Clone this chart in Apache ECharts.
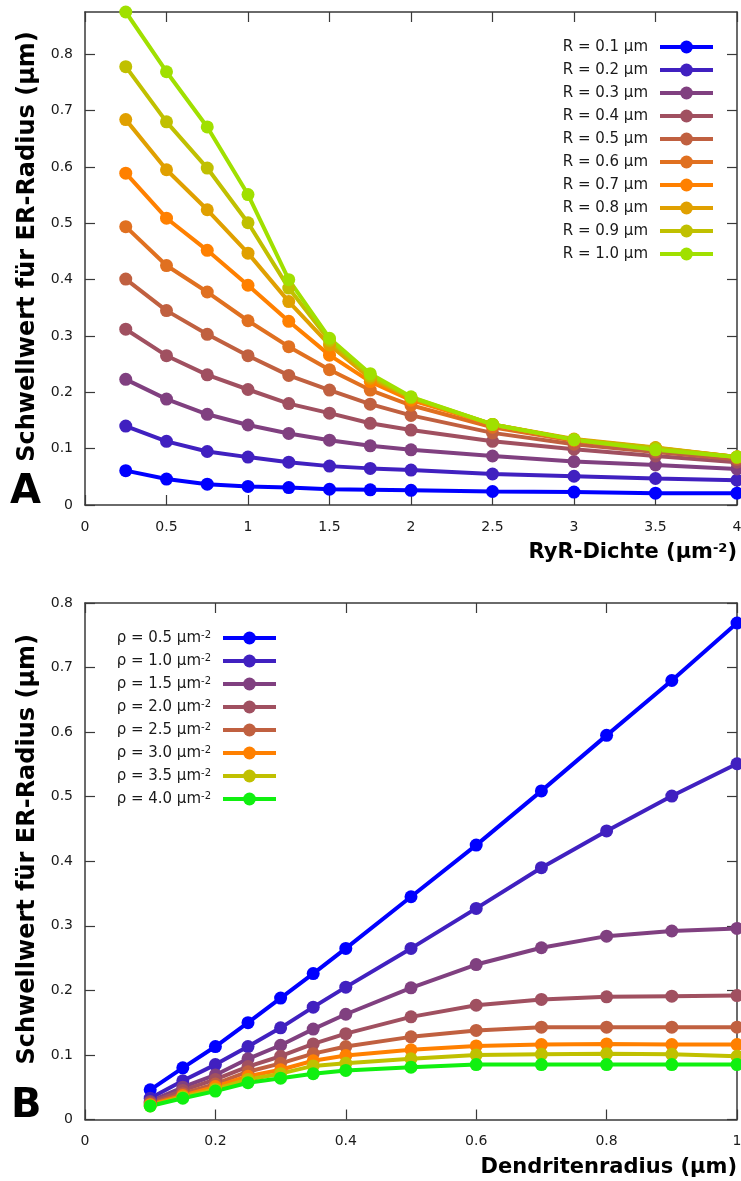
<!DOCTYPE html>
<html>
<head>
<meta charset="utf-8">
<script src="https://cdn.jsdelivr.net/npm/echarts@6/dist/echarts.min.js"></script>
<style>
  html, body { margin: 0; padding: 0; background: #fff; }
  #chart { width: 741px; height: 1181px; }
</style>
</head>
<body>
<div id="chart"></div>
<script>
// ---- Panel A: threshold ER radius vs. RyR density, one curve per dendrite radius ----
const densities = [0.25, 0.5, 0.75, 1, 1.25, 1.5, 1.75, 2, 2.5, 3, 3.5, 4];
const radiusNames = ['R = 0.1 µm', 'R = 0.2 µm', 'R = 0.3 µm', 'R = 0.4 µm', 'R = 0.5 µm',
                     'R = 0.6 µm', 'R = 0.7 µm', 'R = 0.8 µm', 'R = 0.9 µm', 'R = 1.0 µm'];
const radiusColors = ['#0000ff', '#4020c0', '#804080', '#a05060', '#c06040',
                      '#e07020', '#ff8000', '#e0a000', '#c0c000', '#a0e000'];
const thrR01 = [0.061, 0.046, 0.037, 0.033, 0.031, 0.028, 0.027, 0.026, 0.024, 0.023, 0.021, 0.021];
const thrR02 = [0.140, 0.113, 0.095, 0.085, 0.076, 0.069, 0.065, 0.062, 0.055, 0.051, 0.047, 0.044];
const thrR03 = [0.223, 0.188, 0.161, 0.142, 0.127, 0.115, 0.105, 0.098, 0.087, 0.077, 0.071, 0.064];
const thrR04 = [0.312, 0.265, 0.231, 0.205, 0.180, 0.163, 0.145, 0.133, 0.113, 0.099, 0.087, 0.076];
const thrR05 = [0.401, 0.345, 0.303, 0.265, 0.230, 0.204, 0.179, 0.159, 0.128, 0.108, 0.094, 0.081];
const thrR06 = [0.494, 0.425, 0.378, 0.327, 0.281, 0.240, 0.204, 0.177, 0.138, 0.114, 0.100, 0.085];
const thrR07 = [0.589, 0.509, 0.452, 0.390, 0.326, 0.266, 0.219, 0.186, 0.143, 0.116, 0.101, 0.085];
const thrR08 = [0.684, 0.595, 0.524, 0.447, 0.361, 0.284, 0.225, 0.190, 0.143, 0.117, 0.102, 0.085];
const thrR09 = [0.778, 0.680, 0.598, 0.501, 0.385, 0.292, 0.229, 0.191, 0.143, 0.116, 0.101, 0.085];
const thrR10 = [0.875, 0.769, 0.671, 0.551, 0.400, 0.296, 0.233, 0.192, 0.143, 0.116, 0.098, 0.085];
const xTicksA = [0, 0.5, 1, 1.5, 2, 2.5, 3, 3.5, 4];
const yTicksA = [0, 0.1, 0.2, 0.3, 0.4, 0.5, 0.6, 0.7, 0.8];

// ---- Panel B: threshold ER radius vs. dendrite radius, one curve per RyR density ----
const dendriteRadii = [0.1, 0.15, 0.2, 0.25, 0.3, 0.35, 0.4, 0.5, 0.6, 0.7, 0.8, 0.9, 1.0];
const densityNames = ['ρ = 0.5 µm-2', 'ρ = 1.0 µm-2', 'ρ = 1.5 µm-2', 'ρ = 2.0 µm-2',
                      'ρ = 2.5 µm-2', 'ρ = 3.0 µm-2', 'ρ = 3.5 µm-2', 'ρ = 4.0 µm-2'];
const densityColors = ['#0000ff', '#4020c0', '#804080', '#a05060',
                       '#c06040', '#ff8000', '#c0c000', '#10f010'];
const thrP05 = [0.046, 0.080, 0.113, 0.150, 0.188, 0.226, 0.265, 0.345, 0.425, 0.509, 0.595, 0.680, 0.769];
const thrP10 = [0.033, 0.060, 0.085, 0.113, 0.142, 0.174, 0.205, 0.265, 0.327, 0.390, 0.447, 0.501, 0.551];
const thrP15 = [0.028, 0.050, 0.069, 0.094, 0.115, 0.140, 0.163, 0.204, 0.240, 0.266, 0.284, 0.292, 0.296];
const thrP20 = [0.026, 0.045, 0.062, 0.082, 0.098, 0.117, 0.133, 0.159, 0.177, 0.186, 0.190, 0.191, 0.192];
const thrP25 = [0.024, 0.040, 0.055, 0.074, 0.087, 0.102, 0.113, 0.128, 0.138, 0.143, 0.143, 0.143, 0.143];
const thrP30 = [0.023, 0.037, 0.051, 0.067, 0.077, 0.091, 0.099, 0.108, 0.114, 0.116, 0.117, 0.116, 0.116];
const thrP35 = [0.021, 0.035, 0.047, 0.062, 0.071, 0.083, 0.087, 0.094, 0.100, 0.101, 0.102, 0.101, 0.098];
const thrP40 = [0.021, 0.033, 0.044, 0.057, 0.064, 0.071, 0.076, 0.081, 0.085, 0.085, 0.085, 0.085, 0.085];
const xTicksB = [0, 0.2, 0.4, 0.6, 0.8, 1];
const yTicksB = [0, 0.1, 0.2, 0.3, 0.4, 0.5, 0.6, 0.7, 0.8];

const seriesA = [thrR01, thrR02, thrR03, thrR04, thrR05, thrR06, thrR07, thrR08, thrR09, thrR10];
const seriesB = [thrP05, thrP10, thrP15, thrP20, thrP25, thrP30, thrP35, thrP40];

const FONT = '"DejaVu Sans", Verdana, sans-serif';
const INK = '#1a1a1a';
const FRAME = '#3a3a3a';

function supText(name) {
  // "µm-2" -> superscript exponent
  return name.replace('µm-2', 'µm{sup|-2}');
}

function ticks(values) {
  return { show: true, inside: true, length: 10, customValues: values, lineStyle: { color: FRAME, width: 1.2 } };
}

function frameAxis(extra) {
  return Object.assign({
    type: 'value',
    axisLine: { show: true, onZero: false, lineStyle: { color: FRAME, width: 1.5 } },
    axisTick: { show: true, inside: true, length: 10, lineStyle: { color: FRAME, width: 1.2 } },
    splitLine: { show: false },
    axisLabel: { show: false }
  }, extra);
}

const tickLabel = { show: true, fontFamily: FONT, fontSize: 14, color: INK };
// rotated title, nudged slightly upward so it clears the panel letter
const yTitleStyle = { fontFamily: FONT, fontSize: 24, fontWeight: 'bold', color: '#000', padding: [0, 0, 0, 24] };
const xTitleRich = { sup: { fontFamily: FONT, fontSize: 13, fontWeight: 'bold', fill: '#000', verticalAlign: 'top', lineHeight: 13 } };

function lineSeries(name, values, xs, color, axisIdx) {
  return {
    type: 'line', name: name,
    xAxisIndex: axisIdx, yAxisIndex: axisIdx,
    data: xs.map((x, i) => [x, values[i]]),
    symbol: 'circle', symbolSize: 13,
    lineStyle: { width: 4, color: color },
    itemStyle: { color: color },
    clip: false,
    animation: false,
    z: 3
  };
}

const series = [];
seriesA.forEach((vals, i) => series.push(lineSeries(radiusNames[i], vals, densities, radiusColors[i], 0)));
seriesB.forEach((vals, i) => series.push(lineSeries(densityNames[i], vals, dendriteRadii, densityColors[i], 2)));

const legendText = {
  fontFamily: FONT, fontSize: 15, color: INK, lineHeight: 16, padding: [0, 7, 0, 0],
  rich: { sup: { fontFamily: FONT, fontSize: 10, color: INK, verticalAlign: 'top', lineHeight: 10 } }
};

const option = {
  animation: false,
  backgroundColor: '#fff',
  grid: [
    { left: 85, top: 12, width: 652, height: 493, containLabel: false, outerBoundsMode: 'none' },
    { left: 85, top: 603, width: 652, height: 516.5, containLabel: false, outerBoundsMode: 'none' }
  ],
  xAxis: [
    frameAxis({ gridIndex: 0, position: 'bottom', min: 0, max: 4, interval: 0.5,
      axisLabel: Object.assign({ margin: 15, customValues: xTicksA }, tickLabel),
      axisTick: ticks(xTicksA) }),
    frameAxis({ gridIndex: 0, position: 'top', min: 0, max: 4, interval: 0.5, axisTick: ticks(xTicksA) }),
    frameAxis({ gridIndex: 1, position: 'bottom', min: 0, max: 1, interval: 0.2,
      axisLabel: Object.assign({ margin: 15, customValues: xTicksB }, tickLabel),
      axisTick: ticks(xTicksB) }),
    frameAxis({ gridIndex: 1, position: 'top', min: 0, max: 1, interval: 0.2, axisTick: ticks(xTicksB) })
  ],
  yAxis: [
    frameAxis({ gridIndex: 0, position: 'left', min: 0, max: 0.875, interval: 0.1,
      axisLabel: Object.assign({ margin: 12, customValues: yTicksA }, tickLabel),
      axisTick: ticks(yTicksA),
      name: 'Schwellwert für ER-Radius (µm)', nameLocation: 'middle', nameRotate: 90, nameGap: 37,
      nameTextStyle: yTitleStyle }),
    frameAxis({ gridIndex: 0, position: 'right', min: 0, max: 0.875, interval: 0.1, axisTick: ticks(yTicksA) }),
    frameAxis({ gridIndex: 1, position: 'left', min: 0, max: 0.8, interval: 0.1,
      axisLabel: Object.assign({ margin: 12, customValues: yTicksB }, tickLabel),
      axisTick: ticks(yTicksB),
      name: 'Schwellwert für ER-Radius (µm)', nameLocation: 'middle', nameRotate: 90, nameGap: 37,
      nameTextStyle: yTitleStyle }),
    frameAxis({ gridIndex: 1, position: 'right', min: 0, max: 0.8, interval: 0.1, axisTick: ticks(yTicksB) })
  ],
  legend: [
    {
      data: radiusNames, orient: 'vertical', align: 'right',
      right: 26, top: 39, padding: 0,
      itemWidth: 53, itemHeight: 16, itemGap: 7,
      lineStyle: { width: 4 },
      textStyle: legendText, selectedMode: false
    },
    {
      data: densityNames, orient: 'vertical', align: 'right',
      right: 463, top: 630, padding: 0,
      itemWidth: 53, itemHeight: 16, itemGap: 7,
      lineStyle: { width: 4 },
      formatter: supText,
      textStyle: legendText, selectedMode: false
    }
  ],
  graphic: [
    { type: 'text', right: 4, top: 542,
      style: { text: 'RyR-Dichte (µm{sup|-2})', font: 'bold 21px ' + FONT, fill: '#000', rich: xTitleRich } },
    { type: 'text', right: 4, top: 1157,
      style: { text: 'Dendritenradius (µm)', font: 'bold 21px ' + FONT, fill: '#000' } },
    { type: 'text', left: 10, top: 473, style: { text: 'A', font: 'bold 40px ' + FONT, fill: '#000' } },
    { type: 'text', left: 11, top: 1087, style: { text: 'B', font: 'bold 40px ' + FONT, fill: '#000' } }
  ],
  series: series
};

const chart = echarts.init(document.getElementById('chart'), null, { renderer: 'canvas' });
chart.setOption(option);
</script>
</body>
</html>
